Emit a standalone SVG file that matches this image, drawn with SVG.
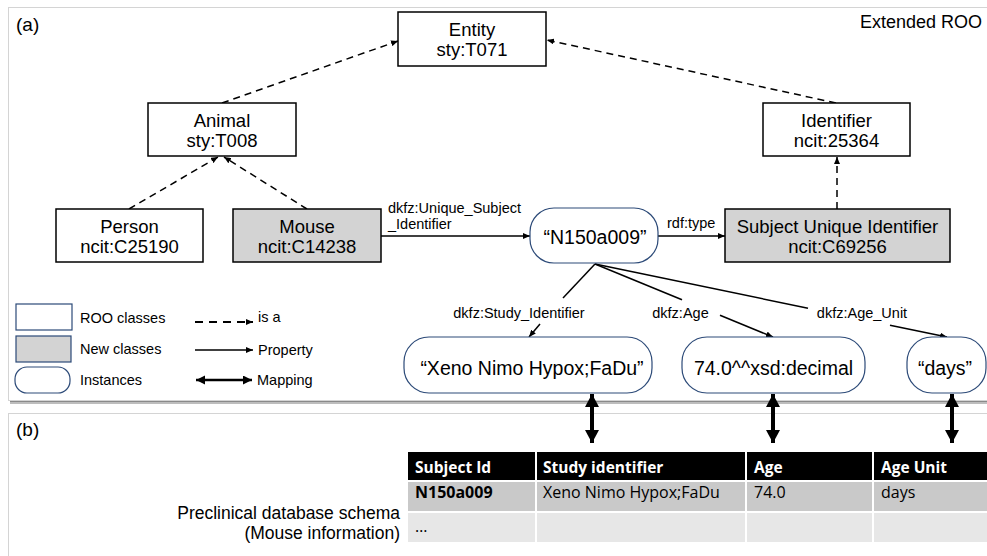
<svg xmlns="http://www.w3.org/2000/svg" width="987" height="556" viewBox="0 0 987 556">
  <style>
    .sans { font-family: "Liberation Sans", Arial, sans-serif; fill: #000; }
    .cls { fill: #fff; stroke: #000; stroke-width: 1.5; }
    .newcls { fill: #d3d3d3; stroke: #000; stroke-width: 1.5; }
    .inst { fill: #fff; stroke: #2c4a78; stroke-width: 1.2; }
    .ct { font-size: 18.5px; text-anchor: middle; }
    .it { font-size: 19.5px; text-anchor: middle; }
    .lbl { font-size: 14.5px; }
    .mid { text-anchor: middle; }
    .isa { fill: none; stroke: #000; stroke-width: 1.5; stroke-dasharray: 7 5; }
    .prop { fill: none; stroke: #000; stroke-width: 1.5; }
    .map { fill: none; stroke: #000; stroke-width: 4; }
    .tbl { font-family: "Open Sans", "Noto Sans", sans-serif; font-size: 16px; fill: #000; }
    .th { font-weight: bold; font-size: 15.5px; fill: #fff; }
  </style>
  <defs>
    <marker id="head" markerUnits="userSpaceOnUse" markerWidth="8" markerHeight="6" refX="7" refY="3" orient="auto">
      <path d="M0,0 L7,3 L0,6 z" fill="#000"/>
    </marker>
    <marker id="bigHead" markerUnits="userSpaceOnUse" markerWidth="14" markerHeight="14" refX="13" refY="7" orient="auto-start-reverse">
      <path d="M0,0 L13,7 L0,14 z" fill="#000"/>
    </marker>
    <marker id="midHead" markerUnits="userSpaceOnUse" markerWidth="10" markerHeight="10" refX="9" refY="4.5" orient="auto-start-reverse">
      <path d="M0,0 L9,4.5 L0,9 z" fill="#000"/>
    </marker>
  </defs>

  <rect width="987" height="556" fill="#fff"/>

  <!-- panel frames -->
  <g id="panels">
    <line x1="10" y1="402.5" x2="987" y2="402.5" stroke="#bdbdbd" stroke-width="3"/>
    <line x1="10" y1="401.5" x2="987" y2="401.5" stroke="#8a8a8a" stroke-width="1.2"/>
    <rect x="8.5" y="7.5" width="990" height="393" fill="#fff" stroke="#d4d4d4" stroke-width="1"/>
    <rect x="8.5" y="413.5" width="990" height="160" fill="#fff" stroke="#d4d4d4" stroke-width="1"/>
    <text class="sans" x="16" y="31" font-size="19px">(a)</text>
    <text class="sans" x="16" y="436" font-size="19px">(b)</text>
    <text class="sans" x="982" y="28" font-size="18px" text-anchor="end">Extended ROO</text>
  </g>

  <!-- connectors -->
  <g id="connectors">
    <line class="isa" x1="222" y1="103" x2="398" y2="41" marker-end="url(#head)"/>
    <line class="isa" x1="836" y1="103" x2="547" y2="40" marker-end="url(#head)"/>
    <line class="isa" x1="129" y1="209" x2="218" y2="157" marker-end="url(#head)"/>
    <line class="isa" x1="307" y1="209" x2="224" y2="157" marker-end="url(#head)"/>
    <line class="isa" x1="837" y1="209" x2="837" y2="157" marker-end="url(#head)"/>

    <line class="prop" x1="381" y1="236" x2="530" y2="236" marker-end="url(#head)"/>
    <text class="sans lbl" x="388" y="213">dkfz:Unique_Subject</text>
    <text class="sans lbl" x="388" y="229">_Identifier</text>

    <line class="prop" x1="658" y1="236" x2="725" y2="236" marker-end="url(#head)"/>
    <text class="sans lbl" x="667" y="228">rdf:type</text>

    <line class="prop" x1="595" y1="264" x2="563" y2="298"/>
    <line class="prop" x1="540" y1="324" x2="529" y2="337" marker-end="url(#head)"/>
    <text class="sans lbl mid" x="519" y="318">dkfz:Study_Identifier</text>

    <line class="prop" x1="595" y1="264" x2="682" y2="299.7"/>
    <line class="prop" x1="720" y1="315.3" x2="773" y2="337" marker-end="url(#head)"/>
    <text class="sans lbl mid" x="680.5" y="318">dkfz:Age</text>

    <line class="prop" x1="595" y1="264" x2="808" y2="308.2"/>
    <line class="prop" x1="890" y1="325.2" x2="947" y2="337" marker-end="url(#head)"/>
    <text class="sans lbl mid" x="862" y="318">dkfz:Age_Unit</text>

    <!-- mappings to the database columns -->
    <line class="map" x1="592" y1="394" x2="592" y2="443" marker-start="url(#bigHead)" marker-end="url(#bigHead)"/>
    <line class="map" x1="773" y1="394" x2="773" y2="443" marker-start="url(#bigHead)" marker-end="url(#bigHead)"/>
    <line class="map" x1="952" y1="394" x2="952" y2="443" marker-start="url(#bigHead)" marker-end="url(#bigHead)"/>
  </g>

  <!-- ontology classes -->
  <g id="entity">
    <rect class="cls" x="398" y="12" width="148" height="54"/>
    <text class="sans ct" x="472" y="36">Entity</text>
    <text class="sans ct" x="472" y="56">sty:T071</text>
  </g>
  <g id="animal">
    <rect class="cls" x="148" y="103" width="148" height="53"/>
    <text class="sans ct" x="222" y="127">Animal</text>
    <text class="sans ct" x="222" y="147">sty:T008</text>
  </g>
  <g id="identifier">
    <rect class="cls" x="763" y="103" width="147" height="53"/>
    <text class="sans ct" x="836.5" y="127">Identifier</text>
    <text class="sans ct" x="836.5" y="147">ncit:25364</text>
  </g>
  <g id="person">
    <rect class="cls" x="56" y="209" width="147" height="53"/>
    <text class="sans ct" x="129.5" y="233">Person</text>
    <text class="sans ct" x="129.5" y="253">ncit:C25190</text>
  </g>
  <g id="mouse">
    <rect class="newcls" x="233" y="209" width="148" height="53"/>
    <text class="sans ct" x="307" y="233">Mouse</text>
    <text class="sans ct" x="307" y="253">ncit:C14238</text>
  </g>
  <g id="subject-unique-identifier">
    <rect class="newcls" x="725" y="209" width="225" height="53"/>
    <text class="sans ct" x="837.5" y="233">Subject Unique Identifier</text>
    <text class="sans ct" x="837.5" y="253">ncit:C69256</text>
  </g>

  <!-- instances -->
  <g id="subject-id">
    <rect class="inst" x="530" y="208" width="128" height="55" rx="24"/>
    <text class="sans it" x="595" y="244">“N150a009”</text>
  </g>
  <g id="study-id">
    <rect class="inst" x="404" y="337" width="248" height="56" rx="25"/>
    <text class="sans it" x="532" y="375">“Xeno Nimo Hypox;FaDu”</text>
  </g>
  <g id="age">
    <rect class="inst" x="682" y="337" width="183" height="56" rx="25"/>
    <text class="sans it" x="773.5" y="375">74.0^^xsd:decimal</text>
  </g>
  <g id="age-unit">
    <rect class="inst" x="907" y="337" width="79" height="56" rx="25"/>
    <text class="sans it" x="945" y="375">“days”</text>
  </g>

  <!-- legend -->
  <g id="legend">
    <rect x="16" y="304" width="56" height="26" fill="#fff" stroke="#2c4a78" stroke-width="1.2"/>
    <rect x="16" y="336" width="55" height="26" fill="#d3d3d3" stroke="#2c4a78" stroke-width="1.2"/>
    <rect x="15" y="367" width="55" height="26" rx="12" fill="#fff" stroke="#2c4a78" stroke-width="1.2"/>
    <text class="sans lbl" x="80" y="323">ROO classes</text>
    <text class="sans lbl" x="80" y="354">New classes</text>
    <text class="sans lbl" x="80" y="385">Instances</text>
    <line x1="195" y1="322" x2="253" y2="322" stroke="#000" stroke-width="2" stroke-dasharray="8 6" marker-end="url(#head)"/>
    <line x1="195" y1="350" x2="253" y2="350" stroke="#000" stroke-width="1.5" marker-end="url(#head)"/>
    <line x1="196" y1="380" x2="252" y2="380" stroke="#000" stroke-width="2.5" marker-start="url(#midHead)" marker-end="url(#midHead)"/>
    <text class="sans lbl" x="258" y="322">is a</text>
    <text class="sans lbl" x="258" y="355">Property</text>
    <text class="sans lbl" x="257" y="385">Mapping</text>
  </g>

  <!-- database schema table -->
  <g id="schema-table">
    <rect x="408" y="452" width="127" height="28" fill="#000"/>
    <rect x="537" y="452" width="208" height="28" fill="#000"/>
    <rect x="747" y="452" width="125" height="28" fill="#000"/>
    <rect x="874" y="452" width="113" height="28" fill="#000"/>
    <rect x="408" y="482" width="127" height="29" fill="#c9c9c9"/>
    <rect x="537" y="482" width="208" height="29" fill="#c9c9c9"/>
    <rect x="747" y="482" width="125" height="29" fill="#c9c9c9"/>
    <rect x="874" y="482" width="113" height="29" fill="#c9c9c9"/>
    <rect x="408" y="513" width="127" height="29" fill="#e7e7e7"/>
    <rect x="537" y="513" width="208" height="29" fill="#e7e7e7"/>
    <rect x="747" y="513" width="125" height="29" fill="#e7e7e7"/>
    <rect x="874" y="513" width="113" height="29" fill="#e7e7e7"/>
    <text class="tbl th" x="415" y="473">Subject Id</text>
    <text class="tbl th" x="543" y="473">Study identifier</text>
    <text class="tbl th" x="754" y="473">Age</text>
    <text class="tbl th" x="881" y="473">Age Unit</text>
    <text class="tbl" x="415" y="498" font-weight="bold">N150a009</text>
    <text class="tbl" x="543" y="498">Xeno Nimo Hypox;FaDu</text>
    <text class="tbl" x="754" y="498">74.0</text>
    <text class="tbl" x="881" y="498">days</text>
    <text class="tbl" x="415" y="532">…</text>
  </g>

  <g id="schema-caption">
    <text class="sans" x="400" y="519" font-size="17.5px" text-anchor="end">Preclinical database schema</text>
    <text class="sans" x="400" y="539" font-size="17.5px" text-anchor="end">(Mouse information)</text>
  </g>
</svg>
